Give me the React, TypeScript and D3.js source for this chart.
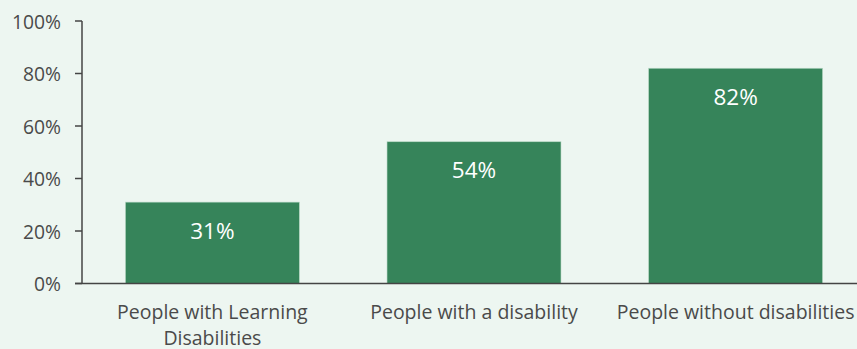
import React from "react";
import * as d3 from "d3";

const categories = ["People with Learning Disabilities", "People with a disability", "People without disabilities"];
const categoryLines = [["People with Learning", "Disabilities"], ["People with a disability"], ["People without disabilities"]];
const values = [31, 54, 82];
const yTicks = [0, 20, 40, 60, 80, 100];

const W = 857;
const H = 349;
const FONT = "'Open Sans', 'Noto Sans', sans-serif";

export default function App() {
  const x0 = 82;
  const x = d3.scaleBand<string>().domain(categories).range([x0, 866]).paddingInner(0.335).paddingOuter(0.166);
  const y = d3.scaleLinear().domain([0, 100]).range([283.5, 21]);
  return (
    <svg width={W} height={H} style={{ position: "absolute", left: 0, top: 0, background: "#edf6f1", fontFamily: FONT }}>
      <rect x={0} y={0} width={W} height={H} fill="#edf6f1" />
      {values.map((v, i) => (
        <g key={i}>
          <rect x={x(categories[i])} y={y(v)} width={x.bandwidth()} height={y(0) - y(v)} fill="#36845a" stroke="#b9d9c6" strokeWidth={0.6} />
          <text x={(x(categories[i]) as number) + x.bandwidth() / 2} y={y(v) + 28} textAnchor="middle" dominantBaseline="central" fill="#ffffff" fontSize={22.5}>{v}%</text>
        </g>
      ))}
      <line x1={x0} x2={x0} y1={y(100)} y2={y(0)} stroke="#444" strokeWidth={1.5} />
      <line x1={x0 - 7} x2={W} y1={y(0)} y2={y(0)} stroke="#444" strokeWidth={1.5} />
      {yTicks.map((t) => (
        <g key={t}>
          <line x1={x0 - 7} x2={x0} y1={y(t)} y2={y(t)} stroke="#444" strokeWidth={1.5} />
          <text x={61} y={y(t)} textAnchor="end" dominantBaseline="central" fill="#4a4a4a" fontSize={19.3}>{t}%</text>
        </g>
      ))}
      {categoryLines.map((lines, i) => (
        <text key={i} textAnchor="middle" fill="#4a4a4a" fontSize={19.5}>
          {lines.map((l, j) => (
            <tspan key={j} x={(x(categories[i]) as number) + x.bandwidth() / 2} y={311 + j * 26} dominantBaseline="central">{l}</tspan>
          ))}
        </text>
      ))}
    </svg>
  );
}
